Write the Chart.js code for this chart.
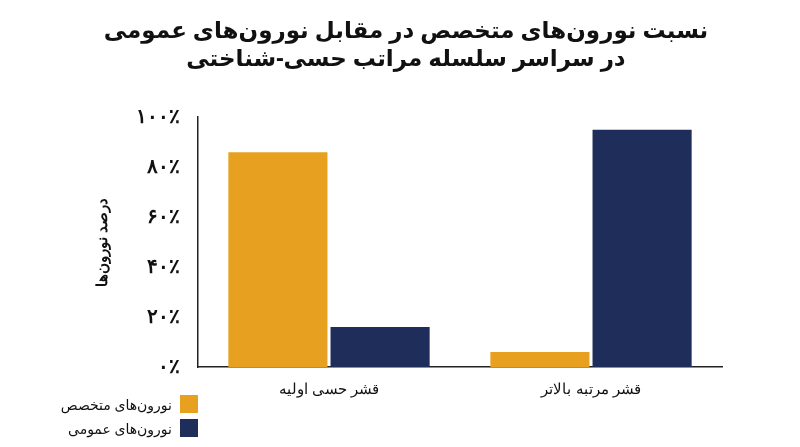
<!DOCTYPE html>
<html><head><meta charset="utf-8">
<script src="https://cdn.jsdelivr.net/npm/chart.js@4"></script>
<style>
body{margin:0;background:#fff;font-family:"Noto Sans","DejaVu Sans",sans-serif}
#wrap{position:relative;width:800px;height:447px}
#legend{position:absolute;left:30px;top:392px;direction:rtl;width:168px}
.li{display:flex;align-items:center;gap:8px;height:24px;font-size:14px;color:#111;font-weight:500}
.sw{width:18px;height:18px;flex:none}
</style></head><body>
<div id="wrap"><canvas id="c" width="800" height="447"></canvas><div id="legend"></div></div>
<script>
const categories = ["قشر حسی اولیه", "قشر مرتبه بالاتر"];
const seriesNames = ["نورون‌های متخصص", "نورون‌های عمومی"];
const specialist = [86, 6];
const general = [16, 95];
const tickLabels = {0:"۰٪",20:"۲۰٪",40:"۴۰٪",60:"۶۰٪",80:"۸۰٪",100:"۱۰۰٪"};
const colors = ["#E8A020", "#1F2D5A"];

const leg = document.getElementById('legend');
seriesNames.forEach((n,i)=>{
  const d=document.createElement('div');d.className='li';
  d.innerHTML='<span class="sw" style="background:'+colors[i]+'"></span><span>'+n+'</span>';
  leg.appendChild(d);
});

new Chart(document.getElementById('c'), {
  type:'bar',
  data:{labels:categories,datasets:[
    {label:seriesNames[0],data:specialist,backgroundColor:colors[0]},
    {label:seriesNames[1],data:general,backgroundColor:colors[1]}
  ]},
  options:{
    responsive:false,animation:false,
    layout:{padding:{left:90,right:78,top:4,bottom:42}},
    categoryPercentage:0.78,barPercentage:0.97,
    plugins:{
      legend:{display:false},tooltip:{enabled:false},
      title:{display:true,text:["نسبت نورون‌های متخصص در مقابل نورون‌های عمومی","در سراسر سلسله مراتب حسی-شناختی"],
        color:'#111',font:{size:23,weight:'bold',family:'"Noto Sans","DejaVu Sans"'},padding:{top:14,bottom:44},lineHeight:1.25}
    },
    scales:{
      x:{grid:{display:false},border:{color:'#222',width:1.5},
        ticks:{color:'#111',font:{size:15,weight:'500'},padding:6}},
      y:{min:0,max:100,grid:{display:false},border:{color:'#222',width:1.5},
        ticks:{stepSize:20,color:'#111',font:{size:20,weight:'bold'},padding:10,callback:v=>tickLabels[v]},
        title:{display:true,text:"درصد نورون‌ها",color:'#111',font:{size:15,weight:'bold'},padding:{bottom:14}}}
    }
  }
});
</script></body></html>
